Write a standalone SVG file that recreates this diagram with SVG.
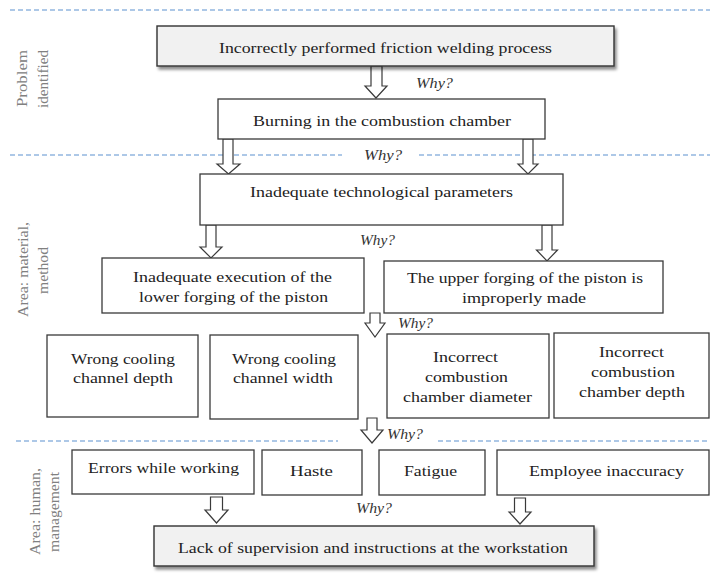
<svg xmlns="http://www.w3.org/2000/svg" width="710" height="577" viewBox="0 0 710 577">
<style>
text{font-family:'Liberation Serif',Tinos,'Times New Roman',Times,'Noto Serif','DejaVu Serif',FreeSerif,serif}
.box{fill:#fff;stroke:#3a3a3a;stroke-width:1.3}
.key{fill:#f1f1f1;stroke:#333;stroke-width:1.4;filter:url(#sh)}
.t{font-size:15.5px;fill:#222;text-anchor:middle}
.why{font-size:14px;font-style:italic;fill:#333}
.side{font-size:14px;fill:#808080;text-anchor:middle}
.dash{stroke:#93b6df;stroke-width:1.3;stroke-dasharray:5 3;fill:none}
.arr{fill:#fff;stroke:#3a3a3a;stroke-width:1.2;stroke-linejoin:miter}
</style>
<defs>
<filter id="sh" x="-5%" y="-20%" width="115%" height="160%">
<feDropShadow dx="2" dy="3" stdDeviation="1.8" flood-color="#000" flood-opacity="0.45"/>
</filter>
</defs>

<g id="lanes">
<line class="dash" x1="10" y1="10" x2="710" y2="10"/>
<line class="dash" x1="10" y1="155" x2="342" y2="155"/>
<line class="dash" x1="419" y1="155" x2="710" y2="155"/>
<line class="dash" x1="16" y1="441" x2="338" y2="441"/>
<line class="dash" x1="438" y1="441" x2="710" y2="441"/>
<text class="side" transform="translate(27,78.5) rotate(-90)" textLength="57" lengthAdjust="spacingAndGlyphs">Problem</text>
<text class="side" transform="translate(47.5,79) rotate(-90)" textLength="58" lengthAdjust="spacingAndGlyphs">identified</text>
<text class="side" transform="translate(27.5,269.5) rotate(-90)" textLength="95" lengthAdjust="spacingAndGlyphs">Area: material,</text>
<text class="side" transform="translate(47.5,270.5) rotate(-90)" textLength="47" lengthAdjust="spacingAndGlyphs">method</text>
<text class="side" transform="translate(39.5,511.5) rotate(-90)" textLength="87" lengthAdjust="spacingAndGlyphs">Area: human,</text>
<text class="side" transform="translate(58.5,512) rotate(-90)" textLength="80" lengthAdjust="spacingAndGlyphs">management</text>
</g>

<g id="connectors">
<path class="arr" d="M371,66 H382 V86 H387 L376,98 L365,86 H371 Z"/>
<path class="arr" d="M223,139 H233 V164 H240 L228.5,174 L217,164 H223 Z"/>
<path class="arr" d="M523,139 H533 V164 H538 L528,174 L518,164 H523 Z"/>
<path class="arr" d="M206,225 H216 V247 H222 L211,258 L200,247 H206 Z"/>
<path class="arr" d="M542,225 H552 V250 H557.5 L547,261 L536.5,250 H542 Z"/>
<path class="arr" d="M370,313 H380 V323 H385 L375,337 L365,323 H370 Z"/>
<path class="arr" d="M367,418 H377 V430 H383 L372,443 L361,430 H367 Z"/>
<path class="arr" d="M210.5,497 H222.5 V510 H228 L216.5,523 L205,510 H210.5 Z"/>
<path class="arr" d="M514.5,498 H525.5 V512 H531 L520,524 L509,512 H514.5 Z"/>
<text class="why" x="416" y="88" textLength="37" lengthAdjust="spacingAndGlyphs">Why?</text>
<text class="why" x="364" y="160" textLength="38" lengthAdjust="spacingAndGlyphs">Why?</text>
<text class="why" x="360" y="245" textLength="35" lengthAdjust="spacingAndGlyphs">Why?</text>
<text class="why" x="398" y="328" textLength="35" lengthAdjust="spacingAndGlyphs">Why?</text>
<text class="why" x="387" y="439" textLength="36" lengthAdjust="spacingAndGlyphs">Why?</text>
<text class="why" x="356" y="513" textLength="36" lengthAdjust="spacingAndGlyphs">Why?</text>
</g>

<g id="n1">
<rect class="key" x="157" y="26" width="457" height="40"/>
<text class="t" x="385.5" y="53" textLength="333" lengthAdjust="spacingAndGlyphs">Incorrectly performed friction welding process</text>
</g>
<g id="n2">
<rect class="box" x="218" y="99" width="327" height="40"/>
<text class="t" x="382" y="126" textLength="258" lengthAdjust="spacingAndGlyphs">Burning in the combustion chamber</text>
</g>
<g id="n3">
<rect class="box" x="200" y="174" width="363" height="51"/>
<text class="t" x="381.5" y="197" textLength="263" lengthAdjust="spacingAndGlyphs">Inadequate technological parameters</text>
</g>
<g id="n4">
<rect class="box" x="102" y="258" width="262" height="55"/>
<text class="t" x="232.5" y="282" textLength="199" lengthAdjust="spacingAndGlyphs">Inadequate execution of the</text>
<text class="t" x="233.5" y="302" textLength="189" lengthAdjust="spacingAndGlyphs">lower forging of the piston</text>
</g>
<g id="n5">
<rect class="box" x="384" y="261" width="279" height="52"/>
<text class="t" x="525" y="283" textLength="236" lengthAdjust="spacingAndGlyphs">The upper forging of the piston is</text>
<text class="t" x="524" y="303" textLength="124" lengthAdjust="spacingAndGlyphs">improperly made</text>
</g>
<g id="n6">
<rect class="box" x="47" y="335" width="151" height="82"/>
<text class="t" x="123" y="364" textLength="104" lengthAdjust="spacingAndGlyphs">Wrong cooling</text>
<text class="t" x="123" y="383" textLength="100" lengthAdjust="spacingAndGlyphs">channel depth</text>
</g>
<g id="n7">
<rect class="box" x="210" y="335" width="148" height="84"/>
<text class="t" x="284" y="364" textLength="104" lengthAdjust="spacingAndGlyphs">Wrong cooling</text>
<text class="t" x="283" y="383" textLength="100" lengthAdjust="spacingAndGlyphs">channel width</text>
</g>
<g id="n8">
<rect class="box" x="387" y="334" width="162" height="84"/>
<text class="t" x="465.5" y="362" textLength="65" lengthAdjust="spacingAndGlyphs">Incorrect</text>
<text class="t" x="466.5" y="382" textLength="83" lengthAdjust="spacingAndGlyphs">combustion</text>
<text class="t" x="467.5" y="402" textLength="129" lengthAdjust="spacingAndGlyphs">chamber diameter</text>
</g>
<g id="n9">
<rect class="box" x="554" y="333" width="155" height="85"/>
<text class="t" x="631.5" y="357" textLength="65" lengthAdjust="spacingAndGlyphs">Incorrect</text>
<text class="t" x="633" y="377" textLength="84" lengthAdjust="spacingAndGlyphs">combustion</text>
<text class="t" x="632" y="397" textLength="106" lengthAdjust="spacingAndGlyphs">chamber depth</text>
</g>
<g id="n10">
<rect class="box" x="72" y="450" width="182" height="44"/>
<text class="t" x="163.5" y="473" textLength="151" lengthAdjust="spacingAndGlyphs">Errors while working</text>
</g>
<g id="n11">
<rect class="box" x="262" y="450" width="100" height="45"/>
<text class="t" x="311.5" y="476" textLength="43" lengthAdjust="spacingAndGlyphs">Haste</text>
</g>
<g id="n12">
<rect class="box" x="379" y="450" width="106" height="45"/>
<text class="t" x="430.5" y="476" textLength="53" lengthAdjust="spacingAndGlyphs">Fatigue</text>
</g>
<g id="n13">
<rect class="box" x="497" y="450" width="212" height="45"/>
<text class="t" x="606.5" y="476" textLength="155" lengthAdjust="spacingAndGlyphs">Employee inaccuracy</text>
</g>
<g id="n14">
<rect class="key" x="154" y="526" width="440" height="40"/>
<text class="t" x="373" y="553" textLength="390" lengthAdjust="spacingAndGlyphs">Lack of supervision and instructions at the workstation</text>
</g>
</svg>
